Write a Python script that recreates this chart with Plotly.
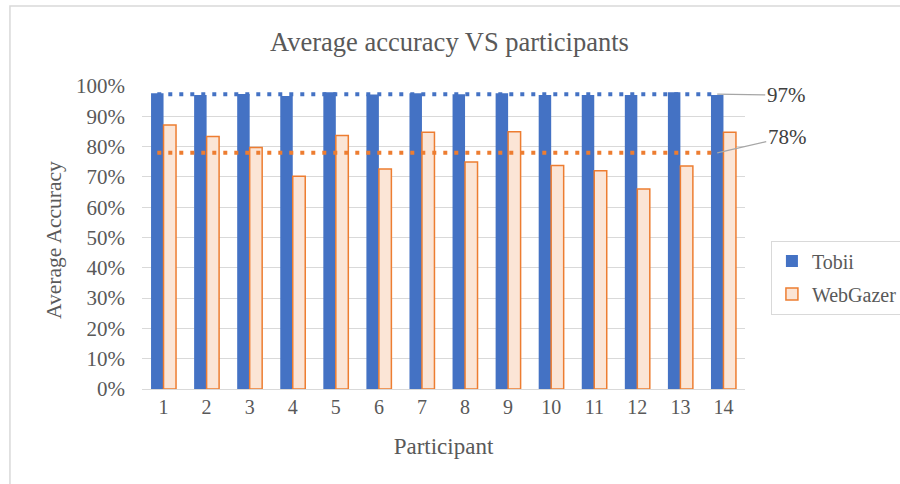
import plotly.graph_objects as go

participants = list(range(1, 15))
tobii = [97.6, 97.0, 97.4, 96.7, 97.9, 97.2, 97.6, 97.3, 97.6, 97.0, 97.0, 97.0, 97.9, 97.0]
webgazer = [87.1, 83.3, 79.7, 70.2, 83.7, 72.6, 84.7, 74.9, 84.9, 73.8, 72.0, 66.0, 73.6, 84.7]
y_ticks = [0, 10, 20, 30, 40, 50, 60, 70, 80, 90, 100]

tobii_f = [v / 100 for v in tobii]
web_f = [v / 100 for v in webgazer]
avg_t = sum(tobii_f) / len(tobii_f)
avg_w = sum(web_f) / len(web_f)

FONT = "Liberation Serif"
GRAY = "#595959"
BLUE = "#4472C4"
ORANGE = "#ED7D31"
FILL = "#FBE5D6"

fig = go.Figure()
fig.add_trace(go.Bar(x=participants, y=tobii_f, name="Tobii", legendgroup="a",
                     marker=dict(color=BLUE, line=dict(color=BLUE, width=0))))
fig.add_trace(go.Bar(x=participants, y=web_f, name="WebGazer", legendgroup="b",
                     marker=dict(color=FILL, line=dict(color=ORANGE, width=1.5))))

off = 0.145
xs = [p - off for p in participants]
fig.add_trace(go.Scatter(x=xs, y=[avg_t] * len(xs), mode="lines", showlegend=False,
                         line=dict(color=BLUE, width=4, dash="4px,7px"), hoverinfo="skip"))
fig.add_trace(go.Scatter(x=xs, y=[avg_w] * len(xs), mode="lines", showlegend=False,
                         line=dict(color=ORANGE, width=4, dash="4px,7px"), hoverinfo="skip"))

fig.add_annotation(x=xs[-1], y=avg_t, text=f"{avg_t*100:.0f}%", showarrow=True,
                   arrowhead=0, arrowwidth=1.2, arrowcolor="#A6A6A6", ax=69, ay=1,
                   font=dict(family=FONT, size=21, color="#404040"))
fig.add_annotation(x=xs[-1], y=avg_w, text=f"{avg_w*100:.0f}%", showarrow=True,
                   arrowhead=0, arrowwidth=1.2, arrowcolor="#A6A6A6", ax=70, ay=-16,
                   font=dict(family=FONT, size=21, color="#404040"))

# y-axis title placed precisely
fig.add_annotation(xref="paper", yref="paper", x=(54 - 142) / 603, y=(389 - 240) / 303,
                   text="Average Accuracy", textangle=-90, showarrow=False,
                   xanchor="center", yanchor="middle",
                   font=dict(family=FONT, size=21.5, color=GRAY))

fig.add_shape(type="rect", xref="paper", yref="paper", x0=-0.219, x1=1.4, y0=-0.5, y1=1.264,
              line=dict(color="#D9D9D9", width=1.5), layer="below")

fig.update_layout(
    width=900, height=484,
    margin=dict(l=142, r=155, t=86, b=95, autoexpand=False),
    paper_bgcolor="white", plot_bgcolor="white",
    barmode="group", bargap=0.42, bargroupgap=0,
    title=dict(text="Average accuracy VS participants", x=449.5 / 900, xref="container",
               xanchor="center", y=1 - 42 / 484, yanchor="middle",
               font=dict(family=FONT, size=26.5, color=GRAY)),
    font=dict(family=FONT, color=GRAY),
    xaxis=dict(range=[0.5, 14.5], tickmode="array", tickvals=participants,
               ticktext=[str(p) for p in participants], showgrid=False, automargin=False,
               showline=True, linecolor="#D9D9D9", linewidth=1, ticks="",
               tickfont=dict(family=FONT, size=20, color=GRAY),
               title=dict(text="Participant", standoff=20,
                          font=dict(family=FONT, size=23, color=GRAY))),
    yaxis=dict(range=[0, 1.0], tickmode="array", tickvals=[t / 100 for t in y_ticks],
               ticktext=[f"{t}%" for t in y_ticks], showgrid=True, automargin=False,
               gridcolor="#D9D9D9", gridwidth=1, zeroline=False, ticks="",
               ticklabelstandoff=16,
               tickfont=dict(family=FONT, size=21, color=GRAY)),
    legend=dict(x=1.043, y=0.49, xanchor="left", yanchor="top",
                bordercolor="#D9D9D9", borderwidth=1, bgcolor="white",
                font=dict(family=FONT, size=20, color=GRAY),
                tracegroupgap=4, itemwidth=30),
)

fig.write_html("out.html", config={"displayModeBar": False},
               post_script="document.body.style.margin='0';document.body.style.overflow='hidden';")
